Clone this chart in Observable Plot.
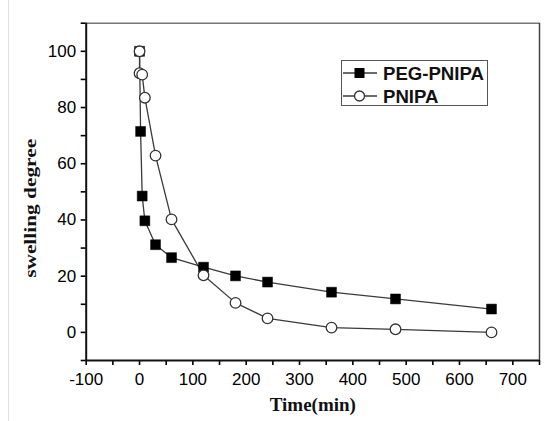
<!DOCTYPE html>
<html>
<head>
<meta charset="utf-8">
<script src="https://cdn.jsdelivr.net/npm/d3@7"></script>
<script src="https://cdn.jsdelivr.net/npm/@observablehq/plot@0.6"></script>
<style>
  html, body { margin: 0; padding: 0; background: #fff; }
  #wrap { position: relative; width: 548px; height: 421px; overflow: hidden; background: #fff; }
  #vline { position: absolute; left: 8px; top: 0; width: 0; height: 421px; border-left: 1.5px solid #e2e2e2; }
  #legend { position: absolute; left: 341px; top: 60px; width: 147px; height: 46px; border: 1.5px solid #555; box-sizing: border-box; background: #fff; }
  .lrow { position: absolute; left: 0; height: 20px; }
  .lrow svg { position: absolute; left: 1px; top: 0; }
  .lrow span { position: absolute; left: 41px; top: 0; line-height: 20px; font: bold 18.6px "Liberation Sans", Arial, sans-serif; color: #111; white-space: nowrap; }
</style>
</head>
<body>
<div id="wrap">
  <div id="chart"></div>
  <div id="vline"></div>
  <div id="legend"></div>
</div>
<script>
// ---- data ----
const seriesNames = ["PEG-PNIPA", "PNIPA"];
const pegTime  = [0, 2, 5, 10, 30, 60, 120, 180, 240, 360, 480, 660];
const pegValue = [100, 71.5, 48.5, 39.7, 31.2, 26.6, 23.2, 20.1, 17.9, 14.3, 11.9, 8.3];
const pnipaTime  = [0, 0, 5, 10, 30, 60, 120, 180, 240, 360, 480, 660];
const pnipaValue = [100, 92.2, 91.7, 83.5, 62.9, 40.2, 20.3, 10.5, 5.0, 1.7, 1.1, 0];
const xMajorTicks = [-100, 0, 100, 200, 300, 400, 500, 600, 700];
const xMinorTicks = [-50, 50, 150, 250, 350, 450, 550, 650, 750];
const yMajorTicks = [0, 20, 40, 60, 80, 100];
const yMinorTicks = [-10, 10, 30, 50, 70, 90, 110];
const xLabel = "Time(min)";
const yLabel = "swelling degree";

const peg = pegTime.map((t, i) => ({time: t, value: pegValue[i]}));
const pnipa = pnipaTime.map((t, i) => ({time: t, value: pnipaValue[i]}));

const chart = Plot.plot({
  width: 548,
  height: 421,
  marginLeft: 85.7,
  marginRight: 9,
  marginTop: 22.7,
  marginBottom: 61,
  x: {domain: [-100, 750]},
  y: {domain: [-10, 110]},
  style: {fontFamily: "'Liberation Sans', Arial, sans-serif", color: "#000", background: "#fff", overflow: "visible"},
  marks: [
    Plot.axisX(xMajorTicks, {tickSize: 5, tickPadding: 7, fontSize: 17, strokeWidth: 1.6, tickFormat: d => String(d), label: null}),
    Plot.axisX(xMinorTicks, {tickSize: 5, strokeWidth: 1.6, text: null, label: null}),
    Plot.axisY(yMajorTicks, {tickSize: 5, tickPadding: 5, fontSize: 17, strokeWidth: 1.6, tickFormat: d => String(d), label: null}),
    Plot.axisY(yMinorTicks, {tickSize: 5, strokeWidth: 1.6, text: null, label: null}),
    Plot.ruleY([110], {stroke: "#777", strokeWidth: 1.5}),
    Plot.ruleX([750], {stroke: "#444", strokeWidth: 1.5}),
    Plot.ruleX([-100], {stroke: "#111", strokeWidth: 2}),
    Plot.ruleY([-10], {stroke: "#111", strokeWidth: 2}),
    Plot.line(peg, {x: "time", y: "value", stroke: "#3a3a3a", strokeWidth: 1.3}),
    Plot.line(pnipa, {x: "time", y: "value", stroke: "#3a3a3a", strokeWidth: 1.3}),
    Plot.dot(peg, {x: "time", y: "value", symbol: "square", r: 5.6, fill: "#000", stroke: "#000", strokeWidth: 0.5}),
    Plot.dot(pnipa, {x: "time", y: "value", symbol: "circle", r: 5.3, fill: "#fff", stroke: "#333", strokeWidth: 1.3}),
    Plot.text([xLabel], {text: d => d, frameAnchor: "bottom", dy: 50, fontFamily: "'Liberation Serif', 'Times New Roman', serif", fontWeight: "bold", fontSize: 19, fill: "#111"}),
    Plot.text([yLabel], {text: d => d, frameAnchor: "left", dx: -55, dy: 86, rotate: -90, textAnchor: "start", fontFamily: "'Liberation Serif', 'Times New Roman', serif", fontWeight: "bold", fontSize: 16, fill: "#111", className: "ylab"})
  ]
});
document.getElementById("chart").appendChild(chart);

const yl = chart.querySelector(".ylab text");
if (yl) { yl.setAttribute("textLength", "139"); yl.setAttribute("lengthAdjust", "spacingAndGlyphs"); }

// legend
const legend = document.getElementById("legend");
seriesNames.forEach((name, i) => {
  const row = document.createElement("div");
  row.className = "lrow";
  row.style.top = (i === 0 ? 2 : 25) + "px";
  const marker = i === 0
    ? '<rect x="11.5" y="5" width="10" height="10" fill="#000"/>'
    : '<circle cx="16.5" cy="10" r="5" fill="#fff" stroke="#333" stroke-width="1.3"/>';
  row.innerHTML = '<svg width="36" height="20"><line x1="0" y1="10" x2="34" y2="10" stroke="#3a3a3a" stroke-width="1.3"/>' + marker + '</svg><span>' + name + '</span>';
  legend.appendChild(row);
});
</script>
</body>
</html>
